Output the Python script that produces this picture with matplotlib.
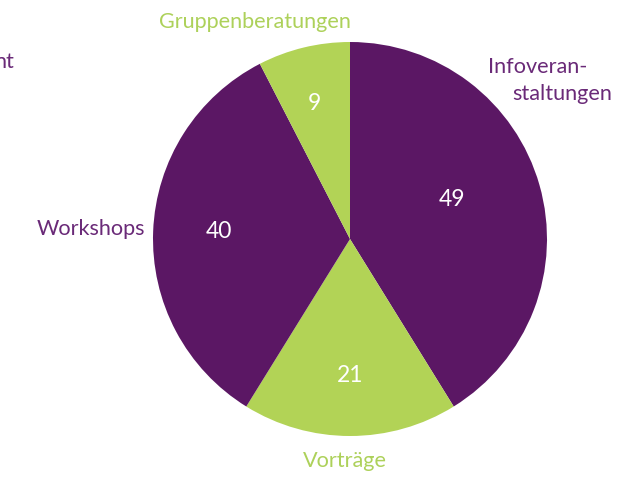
import matplotlib.pyplot as plt

# data
labels = ['Infoveranstaltungen', 'Vorträge', 'Workshops', 'Gruppenberatungen']
values = [49, 21, 40, 9]

purple = '#5b1764'
green = '#b2d356'
label_purple = '#6a2a78'
label_green = '#add15a'
colors = [purple, green, purple, green]

W, H = 626, 483
fig = plt.figure(figsize=(W / 100, H / 100), dpi=100)
ax = fig.add_axes([0, 0, 1, 1])

cx, cy, r = 350, H - 239, 197
ax.pie(values, startangle=90, counterclock=False, colors=colors,
       center=(cx, cy), radius=r, frame=True,
       wedgeprops=dict(linewidth=0))
ax.set_xlim(0, W)
ax.set_ylim(0, H)
ax.set_aspect('equal')
ax.axis('off')

font = 'Lato'
fs = 15.6

# value labels inside wedges (pixel positions from the top-left)
value_pos = [(452, 200), (350, 375), (219, 232), (314, 104)]
for v, (x, y) in zip(values, value_pos):
    ax.text(x, H - y, str(v), color='white', fontsize=16.5, family=font,
            ha='center', va='center')

# category labels
ax.text(255, H - 22, 'Gruppenberatungen', color=label_green, fontsize=fs,
        family=font, ha='center', va='center')
ax.text(488, H - 67, 'Infoveran-', color=label_purple, fontsize=fs,
        family=font, ha='left', va='center')
ax.text(612, H - 94, 'staltungen', color=label_purple, fontsize=fs,
        family=font, ha='right', va='center')
ax.text(145, H - 229, 'Workshops', color=label_purple, fontsize=fs,
        family=font, ha='right', va='center')
ax.text(345, H - 461, 'Vorträge', color=label_green, fontsize=fs,
        family=font, ha='center', va='center')
# label cut off at the left edge in the original
ax.text(14, H - 62, 'nt', color=label_purple, fontsize=fs,
        family=font, ha='right', va='center')

fig.savefig('out.png', dpi=100)
